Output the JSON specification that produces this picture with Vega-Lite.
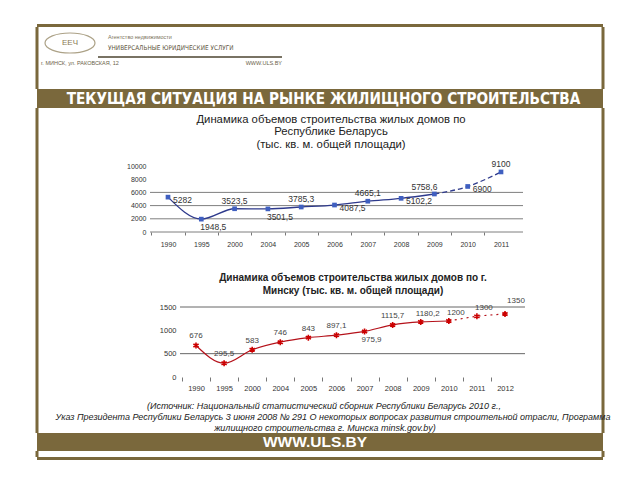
{
  "$schema": "https://vega.github.io/schema/vega-lite/v6.json",
  "background": "white",
  "padding": {"left": 34, "top": 22, "right": 0, "bottom": 0},
  "config": {
    "view": {"stroke": null},
    "concat": {"spacing": 0},
    "font": "Liberation Sans",
    "axis": {"labelFont": "Liberation Sans"},
    "title": {"font": "Liberation Sans"},
    "locale": {"number": {"decimal": ",", "thousands": "", "grouping": [3], "currency": ["", ""]}}
  },
  "datasets": {
    "one": [{"k": 1}],
    "rb": [
      {"year": "1990", "v": 5282},
      {"year": "1995", "v": 1948.5},
      {"year": "2000", "v": 3523.5},
      {"year": "2004", "v": 3501.5},
      {"year": "2005", "v": 3785.3},
      {"year": "2006", "v": 4087.5},
      {"year": "2007", "v": 4665.1},
      {"year": "2008", "v": 5102.2},
      {"year": "2009", "v": 5758.6},
      {"year": "2010", "v": 6900},
      {"year": "2011", "v": 9100}
    ],
    "mn": [
      {"year": "1990", "v": 676},
      {"year": "1995", "v": 295.5},
      {"year": "2000", "v": 583},
      {"year": "2004", "v": 746},
      {"year": "2005", "v": 843},
      {"year": "2006", "v": 897.1},
      {"year": "2007", "v": 975.9},
      {"year": "2008", "v": 1115.7},
      {"year": "2009", "v": 1180.2},
      {"year": "2010", "v": 1200},
      {"year": "2011", "v": 1300},
      {"year": "2012", "v": 1350}
    ]
  },
  "spacing": 0,
  "bounds": "flush",
  "vconcat": [
    {"width": 566, "height": 3, "data": {"name": "one"}, "mark": {"type": "point", "opacity": 0}, "view": {"fill": "#7A683C"}},
    {
      "width": 566, "height": 30, "data": {"name": "one"},
      "view": {"stroke": "#7A683C", "strokeWidth": 3, "strokeDash": [0, 566, 30, 566, 30]},
      "layer": [
        {"mark": {"type": "point", "shape": "M-1,0A1,0.4,0,1,1,1,0A1,0.4,0,1,1,-1,0Z", "size": 2500, "filled": false, "stroke": "#8A7B55", "strokeWidth": 1.2, "xOffset": -250, "yOffset": 1}},
        {"mark": {"type": "text", "text": "ЕЕЧ", "fontSize": 8, "color": "#8A7B55", "dx": -250, "dy": 1}},
        {"mark": {"type": "text", "text": "Агентство недвижимости", "align": "left", "dx": -212, "dy": -5, "fontSize": 5.5, "color": "#7d745e"}},
        {"mark": {"type": "text", "text": "УНИВЕРСАЛЬНЫЕ ЮРИДИЧЕСКИЕ УСЛУГИ", "align": "left", "dx": -212, "dy": 6, "fontSize": 6.4, "font": "DejaVu Sans Condensed", "color": "#5e553e"}},
        {"mark": {"type": "rule", "color": "#4d4632", "strokeWidth": 1.5, "strokeDash": [0, 321, 184, 1000]}, "encoding": {"y": {"value": "height"}}}
      ]
    },
    {
      "width": 566, "height": 32, "data": {"name": "one"},
      "view": {"stroke": "#7A683C", "strokeWidth": 3, "strokeDash": [0, 566, 32, 566, 32]},
      "layer": [
        {"mark": {"type": "text", "text": "г. МИНСК, ул. РАКОВСКАЯ, 12", "align": "left", "dx": -279, "dy": -10, "fontSize": 5.5, "color": "#6b6248"}},
        {"mark": {"type": "text", "text": "WWW.ULS.BY", "align": "right", "dx": -38, "dy": -10, "fontSize": 5.5, "color": "#6b6248"}}
      ]
    },
    {
      "width": 566, "height": 19, "data": {"name": "one"}, "view": {"fill": "#7A683C"},
      "mark": {"type": "text", "text": "ТЕКУЩАЯ СИТУАЦИЯ НА РЫНКЕ ЖИЛИЩНОГО СТРОИТЕЛЬСТВА", "font": "DejaVu Sans Condensed", "fontWeight": "bold", "fontSize": 15.2, "color": "white", "dx": 3.5}
    },
    {"width": 566, "height": 58, "data": {"name": "one"}, "mark": {"type": "point", "opacity": 0},
      "view": {"stroke": "#7A683C", "strokeWidth": 3, "strokeDash": [0, 566, 58, 566, 58]}},
    {
      "width": 566, "height": 66,
      "data": {"name": "rb"},
      "view": {"stroke": "#7A683C", "strokeWidth": 3, "strokeDash": [0, 566, 66, 566, 66]},
      "title": {"text": ["Динамика объемов строительства жилых домов по", "Республике Беларусь", "(тыс. кв. м. общей площади)"], "fontSize": 11.3, "fontWeight": "normal", "color": "#222", "offset": 10, "frame": "group", "anchor": "middle", "lineHeight": 12.5, "dx": 11},
      "encoding": {
        "x": {"field": "year", "type": "ordinal", "title": null, "scale": {"type": "point", "range": [131, 464], "padding": 0},
          "axis": {"labelFontSize": 7, "labelColor": "#333", "ticks": true, "tickSize": 3, "tickColor": "#777", "tickOffset": -16.7, "labelOffset": 16.7, "domain": false, "grid": false, "labelPadding": 5, "labelAngle": 0}},
        "y": {"field": "v", "type": "quantitative", "title": null, "scale": {"domain": [0, 10000], "nice": false},
          "axis": {"values": [0, 2000, 4000, 6000, 8000, 10000], "format": "d", "offset": -114, "labelFontSize": 7, "labelColor": "#333", "labelPadding": 5, "ticks": false, "domain": false, "grid": false}}
      },
      "layer": [
        {"data": {"values": [{"g": 0}, {"g": 2000}, {"g": 4000}, {"g": 6000}]},
          "mark": {"type": "rule", "color": "#7f7f7f", "strokeWidth": 1, "xOffset": -18, "x2Offset": 22},
          "encoding": {"x": {"datum": "1990", "type": "ordinal"}, "x2": {"datum": "2011"}, "y": {"field": "g", "type": "quantitative", "title": null}}},
        {"transform": [{"filter": {"field": "year", "oneOf": ["1990", "1995", "2000", "2004", "2005", "2006", "2007", "2008", "2009"]}}],
          "mark": {"type": "line", "interpolate": "monotone", "color": "#2E3A8C", "strokeWidth": 1.3}},
        {"transform": [{"filter": {"field": "year", "oneOf": ["2009", "2010", "2011"]}}],
          "mark": {"type": "line", "interpolate": "monotone", "color": "#2E3A8C", "strokeWidth": 1.3, "strokeDash": [5, 3]}},
        {"mark": {"type": "point", "shape": "square", "filled": true, "color": "#3F5FC0", "size": 22, "opacity": 1}},
        {"transform": [{"filter": {"field": "year", "oneOf": ["2000", "2005", "2007", "2011"]}}],
          "mark": {"type": "text", "dy": -8, "fontSize": 8.5, "color": "#333"},
          "encoding": {"text": {"field": "v", "type": "quantitative", "format": "~g"}}},
        {"transform": [{"filter": {"field": "year", "oneOf": ["1990", "2006", "2008", "2010"]}}],
          "mark": {"type": "text", "align": "left", "dx": 5, "dy": 3, "fontSize": 8.5, "color": "#333"},
          "encoding": {"text": {"field": "v", "type": "quantitative", "format": "~g"}}},
        {"transform": [{"filter": {"field": "year", "oneOf": ["1995", "2004"]}}],
          "mark": {"type": "text", "dx": 12, "dy": 8, "fontSize": 8.5, "color": "#333"},
          "encoding": {"text": {"field": "v", "type": "quantitative", "format": "~g"}}},
        {"transform": [{"filter": {"field": "year", "oneOf": ["2009"]}}],
          "mark": {"type": "text", "dx": -10, "dy": -7, "fontSize": 8.5, "color": "#333"},
          "encoding": {"text": {"field": "v", "type": "quantitative", "format": "~g"}}}
      ]
    },
    {"width": 566, "height": 75, "data": {"name": "one"}, "mark": {"type": "point", "opacity": 0},
      "view": {"stroke": "#7A683C", "strokeWidth": 3, "strokeDash": [0, 566, 75, 566, 75]}},
    {
      "width": 566, "height": 70,
      "data": {"name": "mn"},
      "view": {"stroke": "#7A683C", "strokeWidth": 3, "strokeDash": [0, 566, 70, 566, 70]},
      "title": {"text": ["Динамика объемов строительства жилых домов по г.", "Минску  (тыс. кв. м. общей площади)"], "fontSize": 10, "fontWeight": "bold", "color": "#222", "offset": 1, "frame": "group", "anchor": "middle", "lineHeight": 13, "dx": 33},
      "encoding": {
        "x": {"field": "year", "type": "ordinal", "title": null, "scale": {"type": "point", "range": [159, 468], "padding": 0},
          "axis": {"labelFontSize": 7.5, "labelColor": "#333", "ticks": true, "tickSize": 4, "tickColor": "#777", "tickOffset": -14, "labelOffset": 14, "domain": false, "grid": false, "labelPadding": 3, "labelAngle": 0}},
        "y": {"field": "v", "type": "quantitative", "title": null, "scale": {"domain": [0, 1500], "nice": false},
          "axis": {"values": [0, 500, 1000, 1500], "format": "d", "offset": -145, "labelFontSize": 7.5, "labelColor": "#333", "labelPadding": 6, "ticks": false, "domain": false, "grid": false}}
      },
      "layer": [
        {"data": {"values": [{"g": 500}, {"g": 1500}]},
          "mark": {"type": "rule", "color": "#666666", "strokeWidth": 1, "xOffset": -16, "x2Offset": 20},
          "encoding": {"x": {"datum": "1990", "type": "ordinal"}, "x2": {"datum": "2012"}, "y": {"field": "g", "type": "quantitative", "title": null}}},
        {"transform": [{"filter": {"field": "year", "oneOf": ["1990", "1995", "2000", "2004", "2005", "2006", "2007", "2008", "2009", "2010"]}}],
          "mark": {"type": "line", "interpolate": "monotone", "color": "#B5121B", "strokeWidth": 1.2}},
        {"transform": [{"filter": {"field": "year", "oneOf": ["2010", "2011", "2012"]}}],
          "mark": {"type": "line", "interpolate": "monotone", "color": "#B5121B", "strokeWidth": 1.2, "strokeDash": [2, 4]}},
        {"mark": {"type": "point", "shape": "M0,-1L0,1M-0.87,-0.5L0.87,0.5M-0.87,0.5L0.87,-0.5", "filled": false, "stroke": "#CC0000", "strokeWidth": 1.6, "size": 36, "opacity": 1}},
        {"transform": [{"filter": {"field": "year", "oneOf": ["1990", "1995", "2000", "2004", "2005", "2006", "2008"]}}],
          "mark": {"type": "text", "dy": -9, "fontSize": 8, "color": "#444"},
          "encoding": {"text": {"field": "v", "type": "quantitative", "format": "~g"}}},
        {"transform": [{"filter": {"field": "year", "oneOf": ["2007"]}}],
          "mark": {"type": "text", "dx": 7, "dy": 9, "fontSize": 8, "color": "#444"},
          "encoding": {"text": {"field": "v", "type": "quantitative", "format": "~g"}}},
        {"transform": [{"filter": {"field": "year", "oneOf": ["2009", "2010", "2011"]}}],
          "mark": {"type": "text", "dx": 7, "dy": -8, "fontSize": 8, "color": "#444"},
          "encoding": {"text": {"field": "v", "type": "quantitative", "format": "~g"}}},
        {"transform": [{"filter": {"field": "year", "oneOf": ["2012"]}}],
          "mark": {"type": "text", "dx": 11, "dy": -13, "fontSize": 8, "color": "#444"},
          "encoding": {"text": {"field": "v", "type": "quantitative", "format": "~g"}}}
      ]
    },
    {"width": 566, "height": 21, "data": {"name": "one"}, "mark": {"type": "point", "opacity": 0},
      "view": {"stroke": "#7A683C", "strokeWidth": 3, "strokeDash": [0, 566, 21, 566, 21]}},
    {
      "width": 566, "height": 35, "data": {"name": "one"},
      "view": {"stroke": "#7A683C", "strokeWidth": 3, "strokeDash": [0, 566, 35, 566, 35]},
      "layer": [
        {"mark": {"type": "text", "text": "(Источник: Национальный статистический сборник Республики Беларусь 2010 г.,", "dx": 4, "dy": -9.5, "fontSize": 9, "fontStyle": "italic", "color": "#222"}},
        {"mark": {"type": "text", "text": "Указ Президента Республики Беларусь 3 июня 2008 № 291 О некоторых вопросах   развития строительной отрасли, Программа", "dx": 13, "dy": 1.5, "fontSize": 9, "fontStyle": "italic", "color": "#222"}},
        {"mark": {"type": "text", "text": "жилищного строительства г. Минска minsk.gov.by)", "dx": 5, "dy": 12.5, "fontSize": 9, "fontStyle": "italic", "color": "#222"}}
      ]
    },
    {
      "width": 566, "height": 18, "data": {"name": "one"}, "view": {"fill": "#7A683C"},
      "mark": {"type": "text", "text": "WWW.ULS.BY", "fontWeight": "bold", "fontSize": 15.5, "color": "white", "dx": -5}
    },
    {"width": 566, "height": 6, "data": {"name": "one"}, "mark": {"type": "point", "opacity": 0},
      "view": {"stroke": "#7A683C", "strokeWidth": 3, "strokeDash": [0, 566, 6, 566, 6]}},
    {"width": 566, "height": 3, "data": {"name": "one"}, "mark": {"type": "point", "opacity": 0}, "view": {"fill": "#7A683C"}}
  ]
}
